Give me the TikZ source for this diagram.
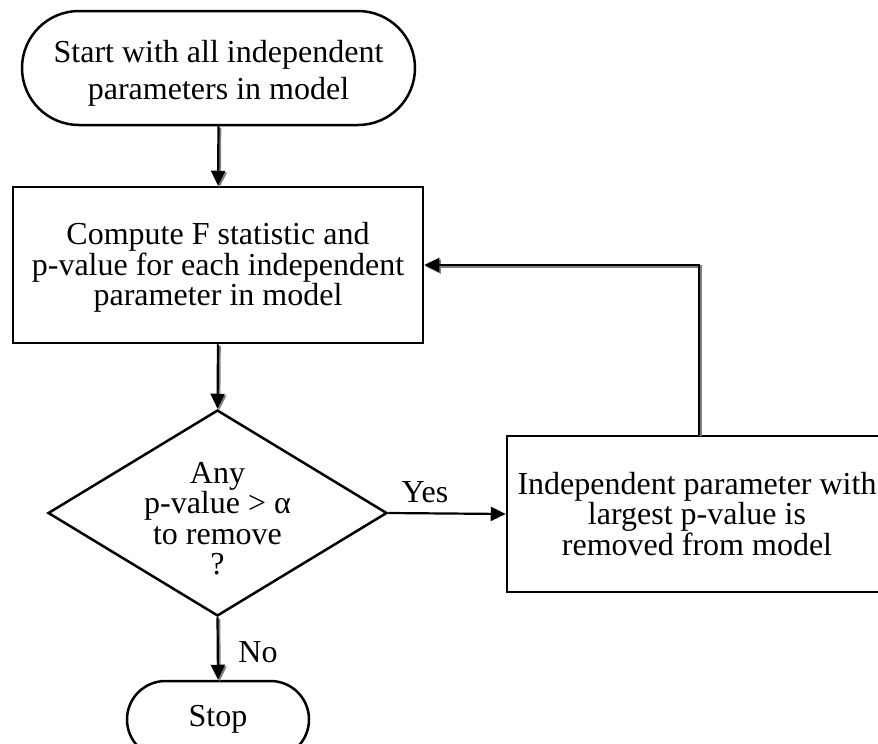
\documentclass[tikz,border=0pt]{standalone}
\usepackage{fontspec}
\setmainfont{Liberation Serif}
\usetikzlibrary{arrows.meta,shapes.misc,shapes.geometric}
\definecolor{shadowgray}{RGB}{128,128,128}

\begin{document}
\begin{tikzpicture}[x=1pt,y=-1pt,
  every node/.style={font=\fontsize{32}{30.5}\selectfont},
  border/.style={draw=black, line width=2.5pt},
  terminal/.style={border, rounded rectangle, inner sep=0pt, align=center},
  process/.style={border, rectangle, inner sep=0pt, align=center},
  decision/.style={border, diamond, inner sep=0pt},
  tip/.style={-{Triangle[length=15pt,width=14pt]}},
  flow/.style={line width=2.2pt, tip},
  shadowflow/.style={flow, preaction={draw=shadowgray, line width=2.4pt, tip,
      transform canvas={shift={(1.6pt,-1.6pt)}}}},
  lbl/.style={inner sep=0pt}
]
\useasboundingbox (0,0) rectangle (878,744);

% flowchart blocks
\node[terminal, minimum width=393pt, minimum height=114pt] (start) at (218.5,68) {};
\node[align=center, inner sep=0pt, font=\fontsize{32}{37}\selectfont] (starttext)
  at (218.5,73) {Start with all independent\\parameters in model};
\node[process, minimum width=410pt, minimum height=156pt] (main) at (218,265) {};
\node[align=center, inner sep=0pt] (maintext) at (218,267.5)
  {Compute F statistic and\\p-value for each independent\\parameter in model};
\node[decision, minimum width=339pt, minimum height=206pt] (dec) at (217.5,513) {};
\node[align=center, inner sep=0pt] (dectext) at (217.5,518.5)
  {Any\\p-value > α\\to remove\\?};
\node[process, minimum width=380pt, minimum height=156pt] (rbox) at (697,514)
  {Independent parameter with\\largest p-value is\\removed from model};
\node[terminal, minimum width=182pt, minimum height=77pt] (stop) at (218,719.5) {Stop};

% connectors
\draw[shadowflow] (start.south) -- (main.north);
\draw[shadowflow] (main.south) -- (dec.north);
\draw[flow] (dec.east) -- (rbox.west);
\node[lbl] (yes) at (425,492) {Yes};
\draw[shadowflow] (dec.south) -- (stop.north);
\node[lbl] (no) at (258,652.5) {No};
\draw[shadowflow] ([xshift=2pt]rbox.north) |- (main.east);
\end{tikzpicture}
\end{document}
